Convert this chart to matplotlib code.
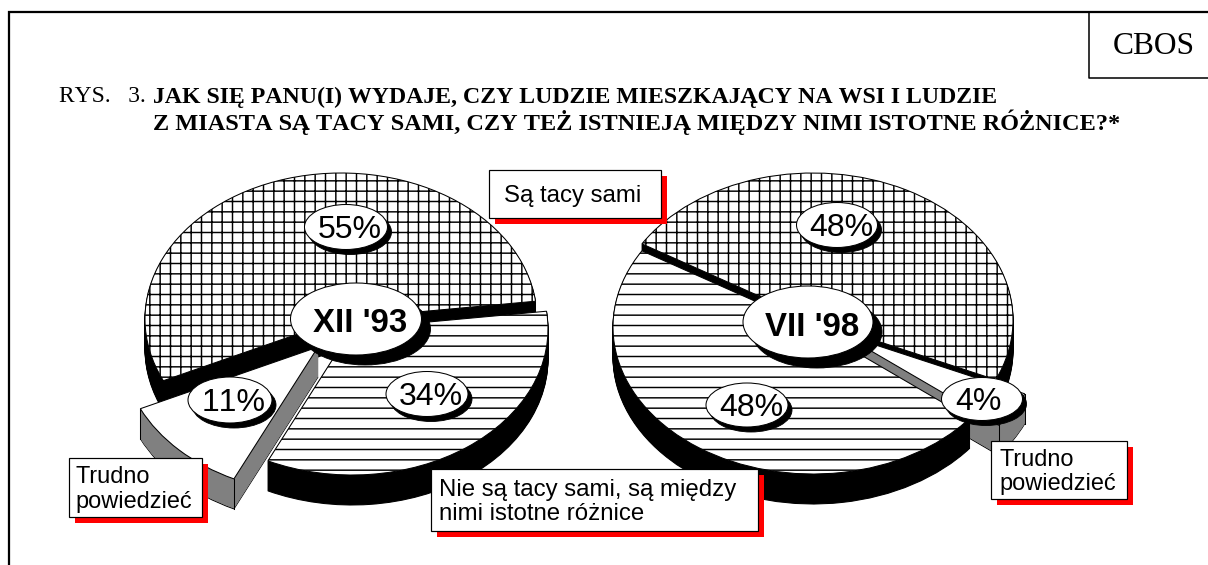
import numpy as np
import matplotlib
matplotlib.use("Agg")
import matplotlib.pyplot as plt
from matplotlib.patches import Ellipse, Rectangle

# survey answers, values go counterclockwise round each pie
values_93 = [55, 11, 34]
values_98 = [48, 48, 4]
period_93 = "XII '93"
period_98 = "VII '98"
label_same = "Są tacy sami"
label_hard = "Trudno\npowiedzieć"
label_diff = "Nie są tacy sami, są między\nnimi istotne różnice"

DPI = 124
W, H = 1208, 565
plt.rcParams['hatch.linewidth'] = 0.85
plt.rcParams['text.kerning_factor'] = 6
SANS = 'Liberation Sans'
SERIF = 'Liberation Serif'


def pts(px):
  return px * 72 / DPI


fig = plt.figure(figsize=(W / DPI, H / DPI), dpi=DPI, facecolor='white')


def draw_pie(cx, cy, rx, ry, values, start, offsets, hatches, sides, order):
  pad = 1.5
  ax = fig.add_axes([(cx - pad * rx) / W, 1 - (cy + pad * ry) / H, 2 * pad * rx / W, 2 * pad * ry / H])
  depth = 30
  edges = start + np.cumsum([0] + values) * 3.6

  def one_slice(i, shift, face, edge, hatch=None):
    x = offsets[i][0] / rx
    y = -(offsets[i][1] + shift) / ry
    wedges, _ = ax.pie(values, startangle=start, center=(x, y), colors=[face] * 3,
                       wedgeprops=dict(edgecolor=edge, linewidth=0.6))
    for j, w in enumerate(wedges):
      if j != i:
        w.set_visible(False)
      elif hatch:
        w.set_hatch(hatch)

  for i in order:
    one_slice(i, depth, sides[i], 'black')
    for d in range(depth - 1, 0, -1):
      one_slice(i, d, sides[i], sides[i])
    if sides[i] != 'black':
      # front corners of the side wall
      for a in edges[i:i + 2]:
        x = offsets[i][0] / rx + np.cos(np.radians(a))
        y = -offsets[i][1] / ry + np.sin(np.radians(a))
        ax.plot([x, x], [y, y - depth / ry], color='black', lw=0.6)
    one_slice(i, 0, 'white', 'black', hatches[i])

  ax.set_aspect('auto')
  ax.set_xlim(-pad, pad)
  ax.set_ylim(-pad, pad)
  return ax


draw_pie(341, 319, 196, 146, values_93, 7, [(0, 0), (-23, 28), (11, 10)],
         ['++', None, '--'], ['black', '#808080', 'black'], [0, 2, 1])
draw_pie(813, 320, 200, 147, values_98, -24, [(0, 0), (0, 7), (29, 14)],
         ['++', '--', None], ['black', 'black', '#808080'], [0, 2, 1])

# page level stuff in pixel coordinates
page = fig.add_axes([0, 0, 1, 1], facecolor='none')
page.set_xlim(0, W)
page.set_ylim(H, 0)
page.axis('off')

# frame and CBOS box
page.plot([9, 9, W], [H, 12, 12], color='black', lw=1.3, solid_joinstyle='miter')
page.plot([1089, 1089, W], [12, 78, 78], color='black', lw=0.9)
page.text(1154, 46, "CBOS", family=SERIF, fontsize=pts(31.5), ha='center', va='center')

# title
page.text(59, 97, "RYS.   3.", family=SERIF, fontsize=pts(23.5), ha='left', va='center')
page.text(153, 97, "JAK SIĘ PANU(I) WYDAJE, CZY LUDZIE MIESZKAJĄCY NA WSI I LUDZIE",
          family=SERIF, weight='bold', fontsize=pts(23.85), ha='left', va='center')
page.text(153, 122, "Z MIASTA SĄ TACY SAMI, CZY TEŻ ISTNIEJĄ MIĘDZY NIMI ISTOTNE RÓŻNICE?*",
          family=SERIF, weight='bold', fontsize=pts(24.2), ha='left', va='center')


def oval(x, y, w, h, txt, off, size, bold=False, dy=3, dx=4):
  page.add_patch(Ellipse((x + off[0], y + off[1]), w, h, fc='black', ec='black', lw=0.5))
  page.add_patch(Ellipse((x, y), w, h, fc='white', ec='black', lw=0.6))
  page.text(x + dx, y + dy, txt, family=SANS, fontsize=pts(size), weight='bold' if bold else 'normal',
            ha='center', va='center')


oval(346, 227, 83, 45, f"{values_93[0]}%", (4, 5), 32)
oval(427, 394, 82, 45, f"{values_93[2]}%", (4, 5), 32)
oval(230, 400, 84, 46, f"{values_93[1]}%", (4, 5), 32)
oval(356, 319, 131, 72, period_93, (9, 10), 33, True, 5)
oval(837, 225, 81, 45, f"{values_98[0]}%", (4, 5), 32)
oval(747, 405, 82, 44, f"{values_98[1]}%", (4, 5), 32)
oval(982, 399, 81, 43, f"{values_98[2]}%", (4, 5), 32, dx=-4)
oval(808, 322, 130, 72, period_98, (9, 10), 33, True, 5)


def callout(x0, y0, x1, y1, txt, tx, size=24, spacing=1.08):
  page.add_patch(Rectangle((x0 + 6, y0 + 6), x1 - x0, y1 - y0, fc='#ff0000', ec='none'))
  page.add_patch(Rectangle((x0, y0), x1 - x0, y1 - y0, fc='white', ec='black', lw=0.7))
  page.text(tx, (y0 + y1) / 2 + 2, txt, family=SANS, fontsize=pts(size), ha='left', va='center', linespacing=spacing)


callout(489, 170, 661, 218, label_same, 504)
callout(69, 458, 202, 517, label_hard, 75, 23.5, 1.22)
callout(431, 469, 758, 531, label_diff, 439)
callout(991, 441, 1127, 499, label_hard, 999, 23.5, 1.14)

fig.savefig('out.png', dpi=DPI)
